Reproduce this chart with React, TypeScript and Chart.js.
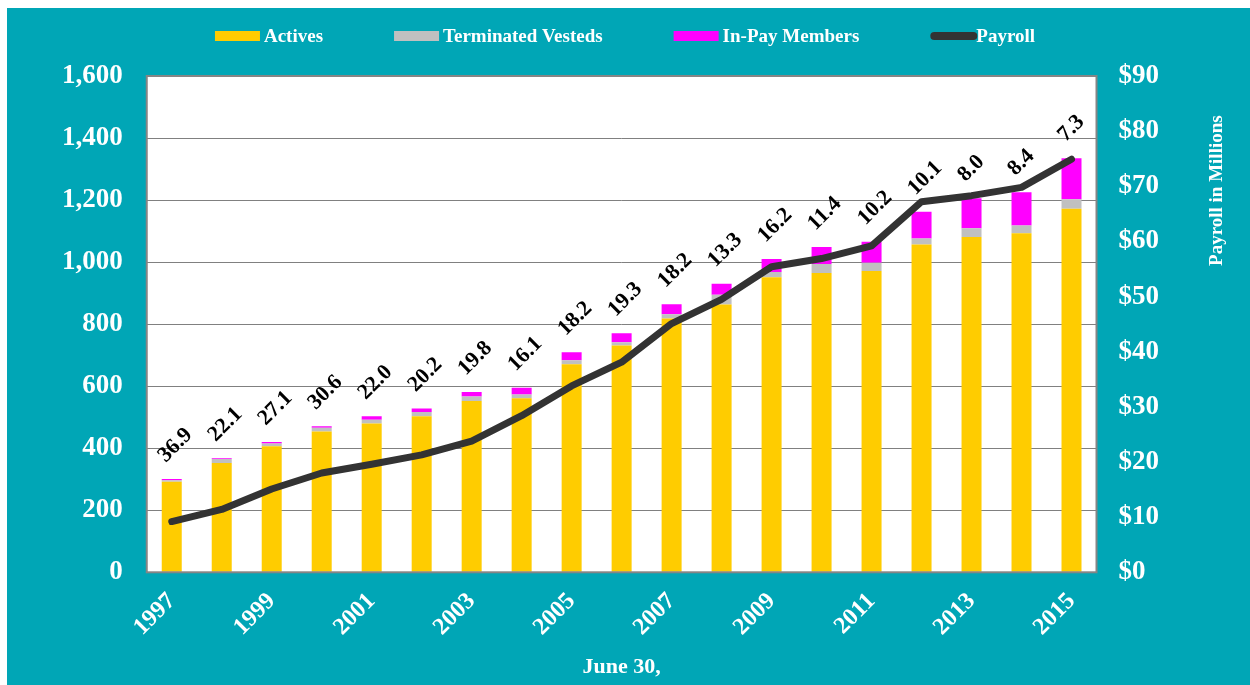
import React, { useEffect, useRef } from "react";
import { Chart, registerables } from "chart.js";

Chart.register(...registerables);

const years = ["1997", "1998", "1999", "2000", "2001", "2002", "2003", "2004", "2005", "2006", "2007", "2008", "2009", "2010", "2011", "2012", "2013", "2014", "2015"];
const actives = [292, 352, 406, 454, 480, 503, 552, 561, 671, 731, 818, 863, 951, 965, 971, 1057, 1081, 1093, 1172];
const terminatedVesteds = [5, 13, 9, 12, 12, 14, 15, 12, 13, 11, 14, 32, 17, 29, 27, 19, 28, 25, 31];
const inPayMembers = [4, 3, 5, 5, 11, 11, 14, 22, 25, 29, 32, 35, 42, 55, 68, 86, 97, 107, 132];
const payroll = [9.2, 11.4, 15.1, 18.0, 19.6, 21.3, 23.8, 28.4, 33.8, 38.1, 45.1, 49.5, 55.4, 56.9, 59.2, 67.2, 68.3, 69.8, 74.9];
const ratioLabels = ["36.9", "22.1", "27.1", "30.6", "22.0", "20.2", "19.8", "16.1", "18.2", "19.3", "18.2", "13.3", "16.2", "11.4", "10.2", "10.1", "8.0", "8.4", "7.3"];

const FONT = "'Liberation Serif', 'Times New Roman', serif";
const TEAL = "#00A6B6";

const plotBackground = {
  id: "plotBackground",
  beforeDraw(chart: any) {
    const { ctx, chartArea } = chart;
    ctx.save();
    ctx.fillStyle = "#ffffff";
    ctx.fillRect(chartArea.left, chartArea.top, chartArea.right - chartArea.left, chartArea.bottom - chartArea.top);
    ctx.restore();
  },
};

const plotBorder = {
  id: "plotBorder",
  afterDatasetsDraw(chart: any) {
    const { ctx, chartArea } = chart;
    ctx.save();
    ctx.strokeStyle = "#858585";
    ctx.lineWidth = 2;
    ctx.strokeRect(chartArea.left, chartArea.top, chartArea.right - chartArea.left, chartArea.bottom - chartArea.top);
    ctx.restore();
  },
};

const ratioLabelPlugin = {
  id: "ratioLabels",
  afterDatasetsDraw(chart: any) {
    const { ctx } = chart;
    const metas = [0, 1, 2].map((i) => chart.getDatasetMeta(i));
    ctx.save();
    ctx.font = `bold 22px ${FONT}`;
    ctx.fillStyle = "#000000";
    ctx.textAlign = "left";
    ctx.textBaseline = "alphabetic";
    ratioLabels.forEach((lab, i) => {
      const top = Math.min(...metas.map((m: any) => m.data[i].y));
      const x = metas[2].data[i].x;
      ctx.save();
      ctx.translate(x - 6, top - 16);
      ctx.rotate(-Math.PI / 4);
      ctx.fillText(lab, 0, 0);
      ctx.restore();
    });
    ctx.restore();
  },
};

const customLegend = {
  id: "customLegend",
  afterDraw(chart: any) {
    const { ctx } = chart;
    ctx.save();
    ctx.font = `bold 19px ${FONT}`;
    const boxW = 45;
    const gap = 4;
    const spacing = 71;
    const items = chart.data.datasets.map((ds: any) => ({
      label: ds.label,
      color: ds.type === "line" ? ds.borderColor : ds.backgroundColor,
      line: ds.type === "line",
    }));
    const widths = items.map((it: any) => boxW + gap + ctx.measureText(it.label).width);
    const total = widths.reduce((a: number, b: number) => a + b, 0) + spacing * (items.length - 1);
    let x = (chart.width - total) / 2 - 2;
    const y = 28;
    items.forEach((it: any, i: number) => {
      if (it.line) {
        ctx.strokeStyle = it.color;
        ctx.lineWidth = 8;
        ctx.lineCap = "round";
        ctx.beginPath();
        ctx.moveTo(x + 4, y);
        ctx.lineTo(x + boxW - 2, y);
        ctx.stroke();
      } else {
        ctx.fillStyle = it.color;
        ctx.fillRect(x, y - 5, boxW, 10);
      }
      ctx.fillStyle = "#ffffff";
      ctx.textAlign = "left";
      ctx.textBaseline = "middle";
      ctx.fillText(it.label, x + boxW + (it.line ? 1 : gap), y + 1);
      x += widths[i] + spacing;
    });
    ctx.restore();
  },
};

const rightTitle = {
  id: "rightTitle",
  afterDraw(chart: any) {
    const { ctx, chartArea } = chart;
    ctx.save();
    ctx.font = `bold 19px ${FONT}`;
    ctx.fillStyle = "#ffffff";
    ctx.textAlign = "center";
    ctx.textBaseline = "middle";
    ctx.translate(1210, chartArea.top + (chartArea.bottom - chartArea.top) * 0.231);
    ctx.rotate(-Math.PI / 2);
    ctx.fillText("Payroll in Millions", 0, 0);
    ctx.restore();
  },
};

export default function App() {
  const canvasRef = useRef<HTMLCanvasElement | null>(null);

  useEffect(() => {
    if (!canvasRef.current) return;
    const chart = new Chart(canvasRef.current, {
      type: "bar",
      data: {
        labels: years,
        datasets: [
          {
            type: "bar",
            label: "Actives",
            data: actives,
            backgroundColor: "#FFCC00",
            borderWidth: 0,
            order: 1,
            yAxisID: "y",
            categoryPercentage: 1,
            barPercentage: 0.4,
          },
          {
            type: "bar",
            label: "Terminated Vesteds",
            data: terminatedVesteds,
            backgroundColor: "#C0C0C0",
            borderWidth: 0,
            order: 1,
            yAxisID: "y",
            categoryPercentage: 1,
            barPercentage: 0.4,
          },
          {
            type: "bar",
            label: "In-Pay Members",
            data: inPayMembers,
            backgroundColor: "#FF00FF",
            borderWidth: 0,
            order: 1,
            yAxisID: "y",
            categoryPercentage: 1,
            barPercentage: 0.4,
          },
          {
            type: "line",
            label: "Payroll",
            data: payroll,
            borderColor: "#333333",
            backgroundColor: "#333333",
            borderWidth: 7,
            pointRadius: 0,
            tension: 0,
            borderJoinStyle: "round",
            borderCapStyle: "round",
            order: 0,
            yAxisID: "y1",
          },
        ] as any,
      },
      options: {
        responsive: false,
        animation: false,
        layout: { padding: { top: 68, left: 31, right: 69, bottom: 2 } },
        plugins: {
          legend: { display: false },
          tooltip: { enabled: false },
        },
        scales: {
          x: {
            stacked: true,
            grid: { display: false },
            border: { display: false },
            ticks: {
              color: "#ffffff",
              font: { family: FONT, size: 24, weight: "bold" },
              maxRotation: 45,
              minRotation: 45,
              autoSkip: false,
              padding: 7,
              callback: (_v: any, i: number) => (i % 2 === 0 ? years[i] : ""),
            },
            title: {
              display: true,
              text: "June 30,",
              color: "#ffffff",
              font: { family: FONT, size: 22, weight: "bold" },
              padding: { top: 6, bottom: 2 },
            },
          },
          y: {
            stacked: true,
            min: 0,
            max: 1600,
            grid: { color: "#808080", lineWidth: 1, drawTicks: false },
            border: { display: false },
            ticks: {
              stepSize: 200,
              color: "#ffffff",
              padding: 24,
              font: { family: FONT, size: 27, weight: "bold" },
              callback: (v: any) => Number(v).toLocaleString("en-US"),
            },
          },
          y1: {
            position: "right",
            min: 0,
            max: 90,
            grid: { display: false, drawTicks: false },
            border: { display: false },
            ticks: {
              stepSize: 10,
              color: "#ffffff",
              padding: 22,
              font: { family: FONT, size: 27, weight: "bold" },
              callback: (v: any) => "$" + v,
            },
          },
        },
      } as any,
      plugins: [plotBackground, plotBorder, ratioLabelPlugin, customLegend, rightTitle],
    });
    return () => chart.destroy();
  }, []);

  return (
    <div
      style={{
        position: "absolute",
        left: 7,
        top: 8,
        width: 1243,
        height: 677,
        background: TEAL,
      }}
    >
      <canvas ref={canvasRef} width={1243} height={677} style={{ display: "block" }} />
    </div>
  );
}
